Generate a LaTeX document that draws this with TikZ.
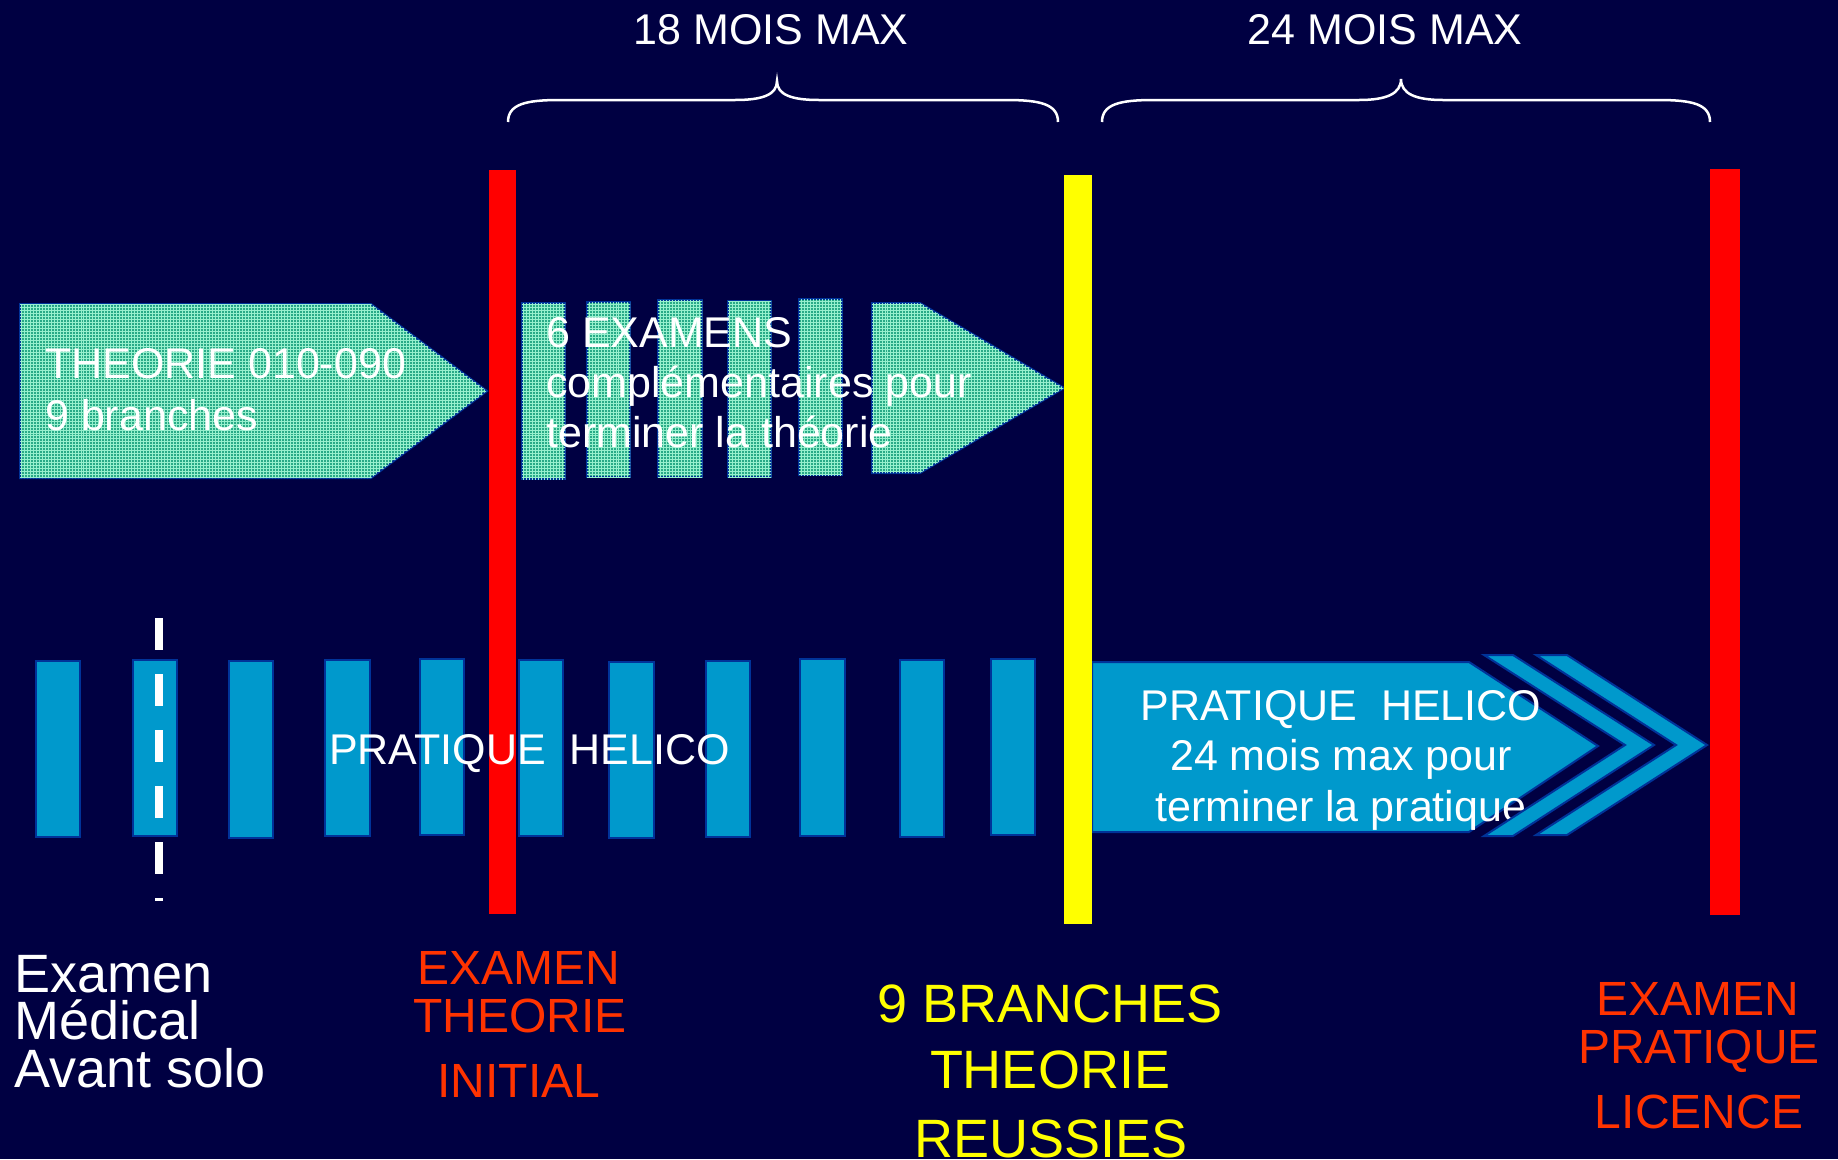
\documentclass[tikz,border=0pt]{standalone}
\usepackage{fontspec}
\setmainfont{Liberation Sans}
\usetikzlibrary{patterns}
\definecolor{bg}{RGB}{0,0,66}
\definecolor{barred}{RGB}{255,0,0}
\definecolor{baryellow}{RGB}{255,255,0}
\definecolor{lblred}{RGB}{255,51,0}
\definecolor{tealbase}{RGB}{40,170,135}
\definecolor{tealgrid}{RGB}{150,240,205}
\definecolor{helico}{RGB}{0,153,204}
\definecolor{edgeblue}{RGB}{0,51,153}
\begin{document}
\begin{tikzpicture}[x=1bp,y=-1bp,
  txt/.style={text=white,inner sep=0pt,font=\fontsize{43bp}{50bp}\selectfont},
  bigtxt/.style={inner sep=0pt,font=\fontsize{54bp}{60bp}\selectfont},
  redtxt/.style={text=lblred,inner sep=0pt,font=\fontsize{48bp}{56bp}\selectfont},
  yeltxt/.style={text=baryellow,inner sep=0pt,font=\fontsize{54bp}{60bp}\selectfont},
  tealshape/.style={fill=tealbase,postaction={pattern=grid,pattern color=tealgrid},draw=edgeblue,line width=2bp},
  heli/.style={fill=helico,draw=edgeblue,line width=2bp},
  brace/.style={draw=white,line width=2.5bp}
]
% background
\fill[bg] (0,0) rectangle (1838,1159);
\useasboundingbox (0,0) rectangle (1838,1159);

% top labels
\node[txt,anchor=base] (m18) at (771,44) {18 MOIS MAX};
\node[txt,anchor=base] (m24) at (1385,44) {24 MOIS MAX};

% braces
\path[brace] (508,122) .. controls (508,104) and (526,100) .. (560,100) -- (735,100)
  .. controls (762,100) and (777,95) .. (777,81) .. controls (777,95) and (792,100) .. (819,100)
  -- (1006,100) .. controls (1040,100) and (1058,104) .. (1058,122);
\path[brace] (1102,122) .. controls (1102,104) and (1120,100) .. (1154,100) -- (1359,100)
  .. controls (1386,100) and (1401,94) .. (1401,79) .. controls (1401,94) and (1416,100) .. (1443,100)
  -- (1658,100) .. controls (1692,100) and (1710,104) .. (1710,122);

% top arrow 1
\path[tealshape] (20,304) -- (371,304) -- (487,391) -- (371,478) -- (20,478) -- cycle;
% top group 2
\path[tealshape] (522,303) rectangle (565,479);
\path[tealshape] (587,302) rectangle (630,477);
\path[tealshape] (658,300) rectangle (702,477);
\path[tealshape] (728,301) rectangle (771,477);
\path[tealshape] (799,299) rectangle (842,475);
\path[tealshape] (872,303) -- (920,303) -- (1064,388) -- (920,473) -- (872,473) -- cycle;

\node[txt,anchor=base west] (th1) at (45,378) {THEORIE 010-090};
\node[txt,anchor=base west] (th2) at (45,430) {9 branches};
\node[txt,anchor=base west] (ex1) at (546,347) {6 EXAMENS};
\node[txt,anchor=base west] (ex2) at (546,397) {complémentaires pour};
\node[txt,anchor=base west] (ex3) at (546,447) {terminer la théorie};

% lower strip rectangles
\path[heli] (36,661) rectangle (80,837);
\path[heli] (133,660) rectangle (177,836);
\path[heli] (229,661) rectangle (273,838);
\path[heli] (325,660) rectangle (370,836);
\path[heli] (420,659) rectangle (464,835);
\path[heli] (519,660) rectangle (563,836);
\path[heli] (609,662) rectangle (654,838);
\path[heli] (706,661) rectangle (750,837);
\path[heli] (800,659) rectangle (845,836);
\path[heli] (900,660) rectangle (944,837);
\path[heli] (991,659) rectangle (1035,835);

% dashed medical line
\draw[white,line width=7.5bp,dash pattern=on 32bp off 24bp] (159,618) -- (159,901);

% right helico arrow
\path[heli] (1092,662) -- (1469,662) -- (1598,746) -- (1469,832) -- (1092,832) -- cycle;

% vertical bars
\fill[barred] (489,170) rectangle (516,914);
\fill[baryellow] (1064,175) rectangle (1092,924);
\fill[barred] (1710,169) rectangle (1740,915);

% lower texts
\node[txt,anchor=base west] (ph) at (329,764) {PRATIQUE~~HELICO};
\node[txt,anchor=base] (pr1) at (1341,720) {PRATIQUE~~HELICO};
\node[txt,anchor=base] (pr2) at (1341,770) {24 mois max pour};
\node[txt,anchor=base] (pr3) at (1341,821) {terminer la pratique};

% chevrons (drawn over the text)
\path[heli] (1484,655) -- (1513,655) -- (1654,745) -- (1513,836) -- (1484,836) -- (1625,745) -- cycle;
\path[heli] (1536,655) -- (1567,655) -- (1707,745) -- (1567,835) -- (1536,835) -- (1676,745) -- cycle;

% bottom labels
\node[bigtxt,text=white,anchor=base west] (med1) at (14,992) {Examen};
\node[bigtxt,text=white,anchor=base west] (med2) at (14,1039) {Médical};
\node[bigtxt,text=white,anchor=base west] (med3) at (14,1087) {Avant solo};

\node[redtxt,anchor=base] (ti1) at (519,984) {EXAMEN};
\node[redtxt,anchor=base] (ti2) at (520,1032) {THEORIE};
\node[redtxt,anchor=base] (ti3) at (519,1097) {INITIAL};

\node[yeltxt,anchor=base] (br1) at (1050,1022) {9 BRANCHES};
\node[yeltxt,anchor=base] (br2) at (1050,1088) {THEORIE};
\node[yeltxt,anchor=base] (br3) at (1051,1157) {REUSSIES};

\node[redtxt,anchor=base] (pl1) at (1698,1015) {EXAMEN};
\node[redtxt,anchor=base] (pl2) at (1699,1063) {PRATIQUE};
\node[redtxt,anchor=base] (pl3) at (1699,1128) {LICENCE};
\end{tikzpicture}
\end{document}
